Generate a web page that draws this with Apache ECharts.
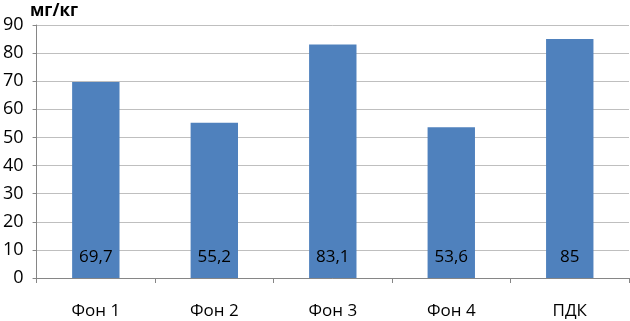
<!DOCTYPE html>
<html><head><meta charset="utf-8">
<script src="https://cdn.jsdelivr.net/npm/echarts@6/dist/echarts.min.js"></script>
<style>html,body{margin:0;padding:0;background:#fff}#c{width:630px;height:321px}</style>
</head><body><div id="c"></div>
<script>
const categories = ['Фон 1', 'Фон 2', 'Фон 3', 'Фон 4', 'ПДК'];
const values = [69.7, 55.2, 83.1, 53.6, 85];
const valueLabels = ['69,7', '55,2', '83,1', '53,6', '85'];
const yTicks = [0, 10, 20, 30, 40, 50, 60, 70, 80, 90];
const unitTitle = 'мг/кг';

const font = 'Open Sans';
const chart = echarts.init(document.getElementById('c'), null, {renderer: 'canvas'});
chart.setOption({
  animation: false,
  backgroundColor: '#fff',
  title: {
    text: unitTitle, left: 25, top: -2,
    textStyle: {fontFamily: font, fontSize: 17, fontWeight: 'bold', color: '#000'}
  },
  grid: {left: 35, right: 1, top: 25, bottom: 43, containLabel: false},
  xAxis: {
    type: 'category', data: categories,
    axisLine: {lineStyle: {color: '#868686'}},
    axisTick: {show: true, length: 5, lineStyle: {color: '#868686'}, alignWithLabel: false},
    axisLabel: {fontFamily: font, fontSize: 17, color: '#000', margin: 25}
  },
  yAxis: {
    type: 'value', min: yTicks[0], max: yTicks[yTicks.length - 1], interval: 10,
    axisLine: {show: true, lineStyle: {color: '#868686'}},
    axisTick: {show: true, length: 4, lineStyle: {color: '#868686'}},
    splitLine: {lineStyle: {color: '#BFBFBF'}},
    axisLabel: {fontFamily: font, fontSize: 18, color: '#000', margin: 13}
  },
  series: [{
    type: 'bar', data: values, barWidth: '40%',
    itemStyle: {color: '#4F81BD'},
    label: {
      show: true, position: 'insideBottom', distance: 12,
      formatter: p => valueLabels[p.dataIndex],
      fontFamily: font, fontSize: 17, color: '#000'
    }
  }]
});
</script></body></html>
